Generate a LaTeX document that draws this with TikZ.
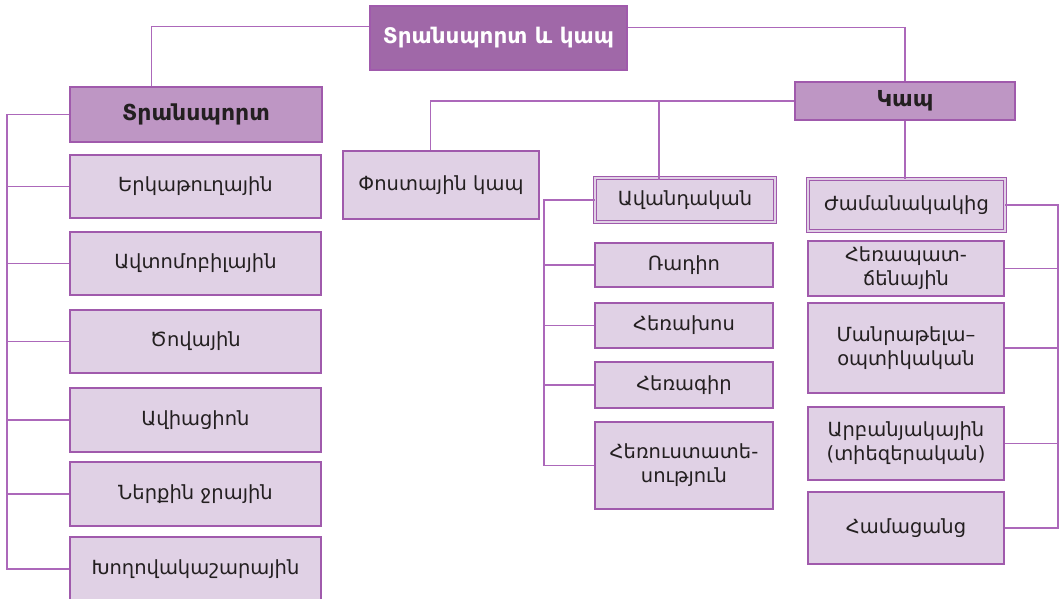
\documentclass[tikz,border=0pt]{standalone}
\usepackage{fontspec}
\setmainfont{DejaVu Sans}
\definecolor{topfill}{RGB}{160,104,168}
\definecolor{midfill}{RGB}{190,150,196}
\definecolor{leaffill}{RGB}{224,209,229}
\definecolor{boxline}{RGB}{160,90,172}
\definecolor{wire}{RGB}{172,104,186}
\definecolor{ink}{RGB}{35,31,32}
\tikzset{
  box/.style={draw=boxline, line width=1.2pt, inner sep=2pt, align=center,
              text=ink, font=\fontsize{19.5}{24}\selectfont},
  headbox/.style={box, fill=midfill, font=\bfseries\fontsize{22}{26}\selectfont},
  rootbox/.style={box, fill=topfill, text=white, font=\bfseries\fontsize{21.5}{26}\selectfont},
  leafbox/.style={box, fill=leaffill},
  twinbox/.style={leafbox, double=leaffill, double distance=1.8pt, line width=0.8pt},
  wire/.style={draw=wire, line width=1.2pt},
}
\newcommand{\boxat}[6]{% style, name, cx, cy, w, h, text
  \node[#1, minimum width=#5pt, minimum height=#6pt] (#2) at (#3,#4)}
\begin{document}
\begin{tikzpicture}[x=1pt,y=-1pt]
\useasboundingbox (0,0) rectangle (1060,599);

% root and the two main branches
\boxat{rootbox}{root}{498.5}{38}{257}{64} {Տրանսպորտ և կապ};
\boxat{headbox}{trans}{196}{114.5}{252}{55} {Տրանսպորտ};
\boxat{headbox}{comm}{905}{101}{220}{38} {Կապ};

% transport kinds
\boxat{leafbox}{t1}{195.5}{186.5}{251}{63} {Երկաթուղային};
\boxat{leafbox}{t2}{195.5}{263.5}{251}{63} {Ավտոմոբիլային};
\boxat{leafbox}{t3}{195.5}{341.5}{251}{63} {Ծովային};
\boxat{leafbox}{t4}{195.5}{420}{251}{64} {Ավիացիոն};
\boxat{leafbox}{t5}{195.5}{494}{251}{64} {Ներքին ջրային};
\boxat{leafbox}{t6}{195.5}{569}{251}{64} {Խողովակաշարային};

% communication kinds
\boxat{leafbox}{post}{441}{185}{196}{68} {Փոստային կապ};
\boxat{twinbox}{trad}{685}{200}{180}{44} {Ավանդական};
\boxat{twinbox}{modern}{906.5}{205}{197}{52} {Ժամանակակից};

\boxat{leafbox}{c1}{684}{265}{178}{44} {Ռադիո};
\boxat{leafbox}{c2}{684}{325.5}{178}{45} {Հեռախոս};
\boxat{leafbox}{c3}{684}{385}{178}{46} {Հեռագիր};
\boxat{leafbox}{c4}{684}{465.5}{178}{87} {Հեռուստատե-\\սություն};

\boxat{leafbox}{m1}{906}{268.5}{196}{55} {Հեռապատ-\\ճենային};
\boxat{leafbox}{m2}{906}{348}{196}{90} {Մանրաթելա–\\օպտիկական};
\boxat{leafbox}{m3}{906}{443.5}{196}{73} {Արբանյակային\\(տիեզերական)};
\boxat{leafbox}{m4}{906}{528}{196}{72} {Համացանց};

% root connectors
\draw[wire] (root.north west) ++(0,21) -| ([xshift=82pt]trans.north west);
\draw[wire] (root.north east) ++(0,22) -| (comm.north);

% transport trunk
\coordinate (tk) at (7,0);
\draw[wire] (trans.west) -- (trans.west -| tk) -- (t6.west -| tk) -- (t6.west);
\foreach \n in {t1,t2,t3,t4,t5} \draw[wire] (\n.west -| tk) -- (\n.west);

% communication branches
\draw[wire] (comm.west) -| ([xshift=88pt]post.north west);
\draw[wire] (comm.west -| trad.north) ++(-26,0) -- ++(0,79);
\draw[wire] (comm.south) -- (modern.north -| comm.south);

% traditional trunk
\coordinate (ck) at (544,0);
\draw[wire] (trad.west) -- (trad.west -| ck) -- (c4.west -| ck) -- (c4.west);
\foreach \n in {c1,c2,c3} \draw[wire] (\n.west -| ck) -- (\n.west);

% modern trunk
\coordinate (mk) at (1058,0);
\draw[wire] (modern.east) -- (modern.east -| mk) -- (m4.east -| mk) -- (m4.east);
\foreach \n in {m1,m2,m3} \draw[wire] (\n.east -| mk) -- (\n.east);
\end{tikzpicture}
\end{document}
